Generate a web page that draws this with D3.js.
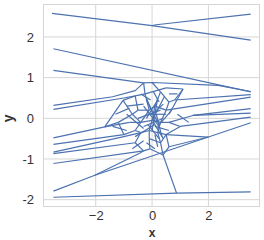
<!DOCTYPE html>
<html>
<head>
<meta charset="utf-8">
<script src="https://cdn.jsdelivr.net/npm/d3@7"></script>
<style>
  body { margin: 0; background: #fff; }
  svg { display: block; font-family: "Liberation Sans", Arial, sans-serif; }
</style>
</head>
<body>
<div id="chartarea"></div>
<script>
// tick values
const xTicks = [-2, 0, 2];
const yTicks = [-2, -1, 0, 1, 2];

// long ridges reaching the x limits
const outerLines = [
    [[-3.55, 2.58], [0, 2.28], [3.5, 1.92]],
    [[0, 2.28], [0.15, 2.30], [3.5, 2.56]],
    [[-3.5, 1.71], [3.5, 0.65]],
    [[-3.5, 1.18], [-0.3, 0.87]],
    [[-0.3, 0.87], [0.0, 0.88], [2.34, 0.81], [3.5, 0.66]],
    [[-3.5, 0.32], [-1.4, 0.53], [-0.6, 0.68], [-0.3, 0.87]],
    [[-3.5, 0.22], [-1.0, 0.5], [-0.6, 0.55]],
    [[0.8, 0.45], [3.5, 0.58]],
    [[0.5, 0.2], [3.5, 0.52]],
    [[0.6, -0.1], [1.45, 0.07], [3.5, 0.24]],
    [[1.45, 0.07], [3.5, 0.13]],
    [[1.0, -0.2], [3.5, 0.03]],
    [[-3.5, -1.79], [-2.03, -1.40], [2.0, -0.46], [3.5, -0.11]],
    [[-2.03, -1.40], [-0.44, -0.86]],
    [[2.0, -0.46], [0.5, -0.4]],
    [[-3.5, -0.48], [-1.68, -0.21], [-0.8, -0.1]],
    [[-3.5, -0.64], [-1.0, -0.4]],
    [[-3.5, -0.83], [-1.0, -0.45], [-0.4, -0.35]],
    [[-3.5, -0.87], [-0.6, -0.6]],
    [[-3.5, -1.11], [-0.3, -0.8]],
    [[-3.5, -1.94], [0.87, -1.84], [3.5, -1.81]],
    [[0.87, -1.84], [0.39, -0.9]]
];

// short ridges of the dense middle
const innerLines = [
    [[-0.3, 0.87], [-0.25, 0.6]], [[-0.25, 0.6], [0.5, 0.75]], [[0.0, 0.88], [0.3, 0.65]],
    [[0.5, 0.75], [1.1, 0.72]], [[1.1, 0.72], [0.6, 0.1]], [[-1.03, 0.44], [-0.6, 0.55]],
    [[-1.03, 0.44], [-1.68, -0.21]], [[-1.03, 0.44], [-0.7, 0.1]], [[-0.6, 0.55], [-0.25, 0.6]],
    [[-0.6, 0.55], [-0.5, 0.2]], [[-0.25, 0.6], [-0.1, 0.2]], [[0.3, 0.65], [0.1, 0.3]],
    [[0.3, 0.65], [0.6, 0.4]], [[0.6, 0.4], [0.8, 0.45]], [[0.6, 0.4], [0.5, 0.2]],
    [[-1.68, -0.21], [-1.2, -0.1]], [[-1.2, -0.1], [-0.7, 0.1]], [[-0.7, 0.1], [-0.5, 0.2]],
    [[-0.5, 0.2], [-0.1, 0.2]], [[-0.1, 0.2], [0.1, 0.3]], [[0.1, 0.3], [0.5, 0.2]],
    [[-0.7, 0.1], [-0.4, -0.1]], [[-0.4, -0.1], [-0.1, 0.2]], [[-0.4, -0.1], [0.0, -0.05]],
    [[0.0, -0.05], [0.1, 0.3]], [[0.0, -0.05], [0.3, -0.1]], [[0.3, -0.1], [0.5, 0.2]],
    [[0.3, -0.1], [0.6, -0.1]], [[0.6, -0.1], [1.0, -0.2]], [[1.0, -0.2], [0.5, -0.4]],
    [[-0.8, -0.1], [-0.4, -0.1]], [[-1.2, -0.1], [-1.0, -0.4]], [[-1.0, -0.4], [-0.6, -0.3]],
    [[-0.6, -0.3], [-0.4, -0.1]], [[-0.6, -0.3], [-0.4, -0.35]], [[-0.4, -0.35], [-0.1, -0.3]],
    [[-0.1, -0.3], [0.0, -0.05]], [[-0.1, -0.3], [0.2, -0.35]], [[0.2, -0.35], [0.3, -0.1]],
    [[0.2, -0.35], [0.5, -0.4]], [[-0.6, -0.6], [-0.4, -0.35]], [[-0.6, -0.6], [-0.3, -0.8]],
    [[-0.3, -0.8], [-0.08, -0.75]], [[-0.08, -0.75], [-0.1, -0.5]], [[-0.1, -0.5], [-0.1, -0.3]],
    [[-0.1, -0.5], [0.3, -0.6]], [[0.3, -0.6], [0.2, -0.35]], [[0.3, -0.6], [0.5, -0.4]],
    [[-0.08, -0.75], [0.39, -0.9]], [[0.39, -0.9], [0.3, -0.6]], [[0.39, -0.9], [0.6, -0.7]],
    [[0.6, -0.7], [0.5, -0.4]], [[0.6, -0.7], [2.0, -0.46]],
    [[0.0, -0.05], [0.45, 0.55]], [[-0.2, 0.0], [0.2, 0.45]], [[0.1, 0.0], [-0.2, 0.5]],
    [[0.05, -0.1], [0.4, -0.5]], [[-0.1, 0.1], [0.5, 0.1]], [[-0.3, 0.3], [0.25, -0.2]],
    [[-0.44, -0.86], [-0.3, -0.8]], [[0.8, 0.45], [1.1, 0.72]], [[-0.9, 0.3], [-0.3, 0.35]],
    [[-0.2, 0.45], [0.2, -0.1]], [[0.2, 0.5], [0.0, -0.3]], [[-0.5, 0.0], [0.3, 0.2]],
    [[0.1, -0.2], [0.6, -0.3]], [[-0.3, -0.2], [0.4, 0.0]], [[0.15, 0.1], [0.35, -0.45]],
    [[-0.15, -0.15], [0.25, -0.5]], [[0.4, 0.35], [0.0, 0.1]], [[-0.6, -0.45], [0.1, -0.15]],
    [[0.2, -0.7], [0.1, -0.4]], [[-0.9, 0.1], [-0.3, -0.25]], [[0.7, 0.2], [0.2, -0.2]],
    [[-1.4, -0.2], [-0.9, -0.3]], [[-1.3, 0.1], [-0.8, 0.25]], [[0.9, 0.1], [1.3, -0.1]],
    [[-0.4, 0.6], [-0.05, 0.45]], [[0.6, 0.6], [0.9, 0.6]], [[-0.7, -0.75], [-0.3, -0.55]],
    [[-0.2, -0.6], [0.1, -0.75]], [[0.05, 0.65], [0.25, 0.4]]
];

const margin = { top: 4, right: 4, bottom: 33, left: 43 };
const width = 264 - margin.left - margin.right;
const height = 240 - margin.top - margin.bottom;

const svg = d3.select('#chartarea')
    .append('svg')
        .attr('width', 264)
        .attr('height', 240);

const group = svg.append('g')
    .attr('transform', `translate(${margin.left}, ${margin.top})`);

const x = d3.scaleLinear().domain([-3.87, 3.83]).range([0, width]);
const y = d3.scaleLinear().domain([-2.18, 2.81]).range([height, 0]);

// grid
group.selectAll('.vgrid')
    .data(xTicks)
    .enter()
    .append('line')
    .attr('x1', d => x(d)).attr('x2', d => x(d))
    .attr('y1', 0).attr('y2', height)
    .attr('stroke', '#d6d6d6');

group.selectAll('.hgrid')
    .data(yTicks)
    .enter()
    .append('line')
    .attr('y1', d => y(d)).attr('y2', d => y(d))
    .attr('x1', 0).attr('x2', width)
    .attr('stroke', '#d6d6d6');

group.append('rect')
    .attr('x', 0.5).attr('y', 0.5)
    .attr('width', width - 1).attr('height', height - 1)
    .attr('fill', 'none')
    .attr('stroke', '#d6d6d6');

// axes (labels only)
const xAxis = d3.axisBottom(x)
    .tickValues(xTicks)
    .tickSize(0)
    .tickPadding(4)
    .tickFormat(d => d < 0 ? '\u2212' + Math.abs(d) : d);
group.append('g')
    .attr('transform', `translate(0, ${height})`)
    .call(xAxis)
    .call(g => g.select('.domain').remove());

const yAxis = d3.axisLeft(y)
    .tickValues(yTicks)
    .tickSize(0)
    .tickPadding(9)
    .tickFormat(d => d < 0 ? '-' + Math.abs(d) : d);
group.append('g')
    .call(yAxis)
    .call(g => g.select('.domain').remove());

group.selectAll('.tick text')
    .attr('font-size', '13px')
    .attr('font-family', '"Liberation Sans", Arial, sans-serif')
    .attr('fill', '#333');

// lines
const line = d3.line().x(d => x(d[0])).y(d => y(d[1]));

group.selectAll('.ridge')
    .data(outerLines.concat(innerLines))
    .enter()
    .append('path')
    .attr('d', line)
    .attr('fill', 'none')
    .attr('stroke', '#4c72b0')
    .attr('stroke-width', 1.2)
    .attr('stroke-linejoin', 'round');

// axis titles
svg.append('text')
    .attr('x', margin.left + x(0))
    .attr('y', 237)
    .attr('text-anchor', 'middle')
    .attr('font-size', '12px')
    .attr('font-weight', 'bold')
    .attr('fill', '#333')
    .text('x');

svg.append('text')
    .attr('transform', `translate(13, ${margin.top + y(0)}) rotate(-90)`)
    .attr('text-anchor', 'middle')
    .attr('font-size', '14px')
    .attr('font-weight', 'bold')
    .attr('fill', '#333')
    .text('y');
</script>
</body>
</html>
